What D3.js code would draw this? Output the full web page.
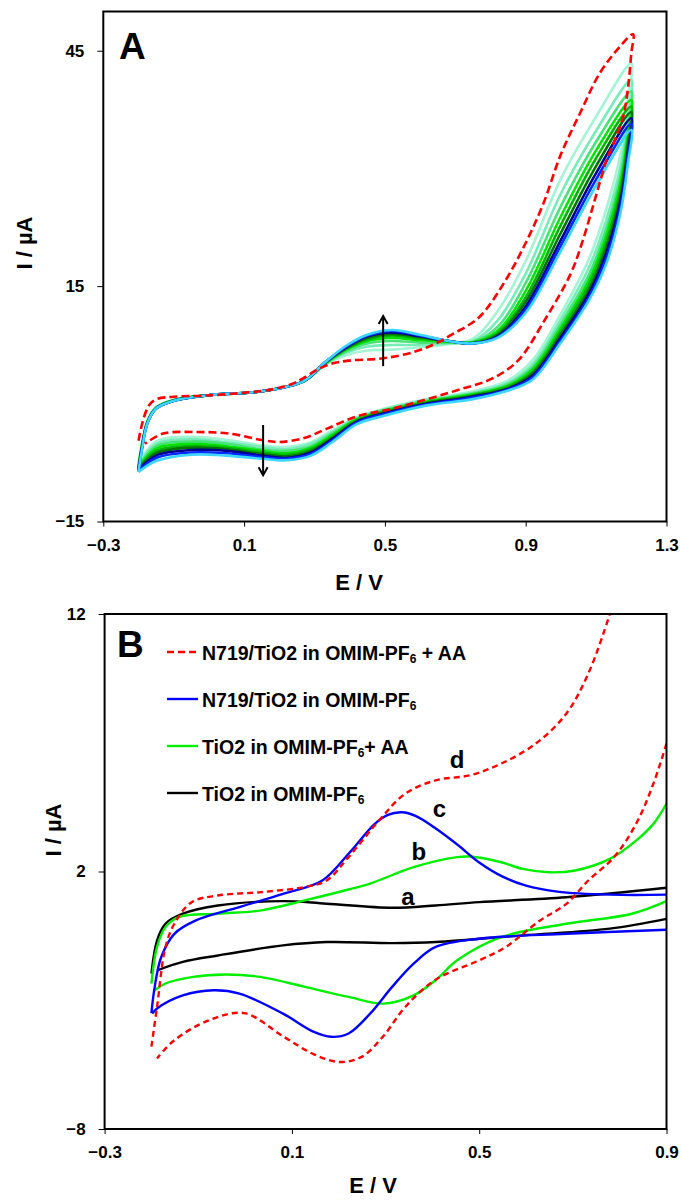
<!DOCTYPE html>
<html>
<head>
<meta charset="utf-8">
<script src="https://cdn.jsdelivr.net/npm/d3@7"></script>
<style>
  body { margin: 0; background: #fff; }
  svg text { font-family: "Liberation Sans", Arial, sans-serif; font-weight: bold; fill: #000; }
</style>
</head>
<body>
<svg id="chart" width="682" height="1200"></svg>
<script>
// ---------- Panel A data (E / V, I / uA) ----------
// E values shared by every scan, forward (anodic) and reverse (cathodic) branch
const scanEFwd = [-0.2, -0.19, -0.175, -0.15, -0.1, 0.0, 0.15, 0.27, 0.33, 0.39, 0.45, 0.52, 0.6, 0.68, 0.75, 0.82, 0.9, 1.0, 1.1, 1.2];
const scanERev = [1.2, 1.19, 1.17, 1.13, 1.08, 1.0, 0.92, 0.85, 0.75, 0.62, 0.5, 0.42, 0.35, 0.29, 0.22, 0.15, 0.05, -0.05, -0.15, -0.2];

// currents of the repeated scans, first scan first
const scanIFwd = [
  [-7.6, -5.0, -2.2, -0.4, 0.5, 1.1, 1.6, 2.9, 5.0, 6.2, 6.8, 6.9, 7.2, 7.6, 8.3, 11.8, 18.2, 28.7, 36.6, 43.4],
  [-7.8, -5.1, -2.25, -0.45, 0.5, 1.1, 1.6, 2.9, 5.0, 6.5, 7.3, 7.5, 7.5, 7.7, 8.0, 10.6, 16.6, 26.8, 34.8, 41.3],
  [-8.0, -5.2, -2.3, -0.5, 0.45, 1.1, 1.6, 2.9, 5.1, 6.7, 7.7, 8.0, 7.8, 7.8, 7.9, 9.8, 15.4, 25.2, 33.4, 39.8],
  [-8.1, -5.3, -2.35, -0.5, 0.45, 1.1, 1.6, 2.9, 5.1, 6.9, 8.0, 8.4, 8.1, 7.9, 7.8, 9.3, 14.4, 23.9, 32.3, 38.7],
  [-8.2, -5.4, -2.4, -0.55, 0.45, 1.1, 1.6, 2.9, 5.2, 7.0, 8.2, 8.7, 8.3, 8.0, 7.8, 9.0, 13.6, 22.8, 31.3, 37.9],
  [-8.3, -5.5, -2.4, -0.55, 0.4, 1.1, 1.6, 2.9, 5.2, 7.1, 8.4, 8.9, 8.5, 8.0, 7.7, 8.8, 13.0, 21.8, 30.3, 37.2],
  [-8.45, -5.6, -2.45, -0.6, 0.4, 1.1, 1.6, 2.9, 5.3, 7.2, 8.6, 9.1, 8.6, 8.0, 7.7, 8.6, 12.4, 20.9, 29.4, 36.4],
  [-8.6, -5.7, -2.5, -0.6, 0.4, 1.1, 1.6, 2.9, 5.3, 7.3, 8.7, 9.3, 8.7, 8.0, 7.7, 8.5, 12.0, 20.2, 28.6, 35.7],
  [-8.7, -5.8, -2.5, -0.6, 0.4, 1.1, 1.6, 2.9, 5.3, 7.4, 8.8, 9.4, 8.8, 8.0, 7.7, 8.4, 11.6, 19.5, 27.8, 34.9]
];
const scanIRev = [
  [43.4, 38.5, 32.0, 25.0, 18.5, 11.5, 5.6, 3.0, 1.6, 0.6, -0.6, -1.7, -3.4, -4.9, -5.5, -5.3, -4.6, -4.2, -4.8, -7.6],
  [41.3, 36.6, 30.4, 23.6, 17.4, 10.8, 5.1, 2.7, 1.4, 0.5, -0.7, -1.8, -3.6, -5.1, -5.8, -5.5, -4.9, -4.5, -5.1, -7.8],
  [39.8, 35.2, 29.2, 22.5, 16.5, 10.2, 4.7, 2.5, 1.3, 0.4, -0.8, -1.9, -3.8, -5.4, -6.0, -5.8, -5.1, -4.8, -5.4, -8.0],
  [38.7, 34.2, 28.3, 21.6, 15.8, 9.7, 4.4, 2.3, 1.2, 0.3, -0.9, -2.0, -4.0, -5.6, -6.3, -6.0, -5.4, -5.1, -5.7, -8.1],
  [37.9, 33.5, 27.5, 20.8, 15.2, 9.3, 4.1, 2.2, 1.1, 0.2, -1.0, -2.1, -4.2, -5.8, -6.5, -6.2, -5.6, -5.4, -6.0, -8.2],
  [37.2, 32.8, 26.8, 20.1, 14.6, 8.9, 3.9, 2.0, 1.0, 0.1, -1.1, -2.2, -4.4, -6.0, -6.7, -6.4, -5.8, -5.6, -6.3, -8.3],
  [36.4, 32.0, 26.0, 19.4, 14.1, 8.5, 3.6, 1.9, 0.9, 0.0, -1.2, -2.3, -4.5, -6.2, -6.9, -6.6, -6.0, -5.9, -6.6, -8.45],
  [35.7, 31.3, 25.2, 18.7, 13.6, 8.1, 3.4, 1.8, 0.8, -0.1, -1.3, -2.4, -4.7, -6.4, -7.0, -6.8, -6.3, -6.2, -6.9, -8.6],
  [34.9, 30.5, 24.5, 18.0, 13.2, 7.8, 3.1, 1.7, 0.6, -0.2, -1.5, -2.6, -4.9, -6.6, -7.2, -7.0, -6.6, -6.5, -7.3, -8.7]
];
const scanColors = ['#a3f5d3', '#78ecb8', '#48e27a', '#00e400', '#00b400', '#007400', '#000090', '#0028ff', '#3cd6ff'];

// red dashed reference curve, one full loop
const redA = [
  [-0.2, -4.7], [-0.19, -2.6], [-0.178, -0.9], [-0.167, 0.0], [-0.148, 0.6], [-0.1, 0.9], [-0.012, 1.05],
  [0.1, 1.4], [0.186, 1.9], [0.24, 2.6], [0.273, 3.4], [0.31, 4.4], [0.347, 5.1], [0.396, 5.5],
  [0.495, 5.8], [0.582, 6.6], [0.64, 7.6], [0.693, 8.9], [0.767, 11.0], [0.841, 15.6], [0.9, 20.5],
  [0.95, 25.5], [1.0, 31.8], [1.054, 37.0], [1.11, 42.1], [1.167, 45.5], [1.205, 47.1],
  [1.2, 44.7], [1.191, 40.4], [1.177, 36.6], [1.153, 33.6], [1.13, 31.1], [1.115, 28.9], [1.09, 25.0],
  [1.06, 20.5], [1.027, 16.5], [0.953, 10.6], [0.878, 5.5], [0.804, 3.2], [0.718, 1.9], [0.52, -0.63],
  [0.42, -1.6], [0.334, -3.2], [0.268, -4.4], [0.2, -4.87], [0.154, -4.65], [0.06, -3.8],
  [-0.035, -3.6], [-0.13, -3.8], [-0.182, -5.1]
];

// arrows: E position, start and end current
const arrowsA = [
  { e: 0.495, from: 4.8, to: 11.2 },
  { e: 0.154, from: -2.7, to: -9.1 }
];

// ---------- Panel B data ----------
const redUpB = [[-0.2, -4.8], [-0.188, -3.26], [-0.17, -0.93], [-0.151, -0.03], [-0.114, 0.81], [-0.058, 1.07],
  [0.035, 1.2], [0.128, 1.4], [0.174, 1.65], [0.221, 2.56], [0.286, 3.98], [0.342, 5.02], [0.407, 5.54],
  [0.481, 5.74], [0.547, 6.19], [0.621, 6.97], [0.686, 8.13], [0.733, 9.69], [0.779, 12.0], [0.8, 13.3]];
const redDownB = [[0.9, 6.97], [0.872, 5.41], [0.835, 3.85], [0.788, 2.56], [0.733, 1.65], [0.686, 0.74],
  [0.63, 0.1], [0.556, -0.94], [0.5, -1.45], [0.407, -2.2], [0.342, -3.26], [0.295, -4.4], [0.249, -5.2],
  [0.202, -5.4], [0.147, -5.1], [0.081, -4.4], [-0.002, -3.5], [-0.077, -3.78], [-0.151, -4.55], [-0.188, -5.26]];
const blueUpB = [[-0.2, -3.5], [-0.193, -2.48], [-0.179, -1.32], [-0.151, -0.42], [-0.105, 0.1], [-0.012, 0.62],
  [0.081, 1.13], [0.165, 1.65], [0.221, 2.69], [0.277, 3.85], [0.305, 4.2], [0.335, 4.3], [0.365, 4.15],
  [0.405, 3.7], [0.453, 3.05], [0.5, 2.35], [0.55, 1.8], [0.6, 1.45], [0.667, 1.22], [0.779, 1.1], [0.9, 1.1]];
const blueDownB = [[0.9, -0.26], [0.686, -0.42], [0.5, -0.61], [0.407, -0.93], [0.36, -1.58], [0.314, -2.48],
  [0.267, -3.52], [0.221, -4.29], [0.184, -4.42], [0.147, -4.23], [0.081, -3.52], [-0.012, -2.74],
  [-0.067, -2.61], [-0.133, -2.81], [-0.188, -3.32], [-0.198, -3.52]];
const greenUpB = [[-0.2, -2.35], [-0.188, -0.93], [-0.17, -0.16], [-0.142, 0.23], [-0.058, 0.36], [0.035, 0.49],
  [0.128, 0.88], [0.221, 1.3], [0.27, 1.55], [0.36, 2.17], [0.453, 2.56], [0.481, 2.58], [0.547, 2.36],
  [0.593, 2.1], [0.649, 1.97], [0.705, 2.04], [0.779, 2.49], [0.835, 3.2], [0.872, 3.85], [0.9, 4.63]];
const greenDownB = [[0.9, 0.85], [0.826, 0.36], [0.686, -0.03], [0.547, -0.55], [0.453, -1.45], [0.407, -2.22],
  [0.36, -2.81], [0.295, -3.13], [0.221, -2.87], [0.128, -2.48], [0.035, -2.1], [-0.04, -2.0], [-0.114, -2.1],
  [-0.17, -2.35], [-0.193, -2.61]];
const blackUpB = [[-0.2, -1.97], [-0.188, -0.68], [-0.17, -0.03], [-0.133, 0.36], [-0.058, 0.68], [0.081, 0.85],
  [0.174, 0.75], [0.314, 0.59], [0.407, 0.68], [0.5, 0.81], [0.686, 1.0], [0.9, 1.37]];
const blackDownB = [[0.9, 0.16], [0.779, -0.22], [0.593, -0.48], [0.407, -0.74], [0.314, -0.78], [0.174, -0.74],
  [0.081, -0.87], [-0.058, -1.26], [-0.133, -1.51], [-0.188, -1.84]];

const legendB = [
  { text: 'N719/TiO2 in OMIM-PF', sub: '6', after: ' + AA', color: '#ff0000', dash: '7,4' },
  { text: 'N719/TiO2 in OMIM-PF', sub: '6', after: '', color: '#0000ff', dash: null },
  { text: 'TiO2 in OMIM-PF', sub: '6', after: '+ AA', color: '#00ee00', dash: null },
  { text: 'TiO2 in OMIM-PF', sub: '6', after: '', color: '#000000', dash: null }
];
// curve letters: E and I of the letter baseline centre
const curveLabelsB = [
  { t: 'd', e: 0.453, i: 6.02 }, { t: 'c', e: 0.415, i: 4.12 },
  { t: 'b', e: 0.371, i: 2.45 }, { t: 'a', e: 0.348, i: 0.7 }
];

const xTicksA = [-0.3, 0.1, 0.5, 0.9, 1.3];
const yTicksA = [-15, 15, 45];
const xTicksB = [-0.3, 0.1, 0.5, 0.9];
const yTicksB = [-8, 2, 12];

const svg = d3.select('#chart');

//Scales
const xA = d3.scaleLinear().domain([-0.3, 1.3]).range([103.3, 666.5]);
const yA = d3.scaleLinear().domain([-15, 50]).range([521.5, 11.5]);
const xB = d3.scaleLinear().domain([-0.3, 0.9]).range([104.6, 666.5]);
const yB = d3.scaleLinear().domain([-8, 12]).range([1129, 614]);

function drawFrame(x, y, xTicks, yTicks, id) {
  const [x0, x1] = x.range();
  const [y0, y1] = y.range();

  svg.append('defs').append('clipPath').attr('id', id)
    .append('rect').attr('x', x0).attr('y', y1).attr('width', x1 - x0).attr('height', y0 - y1);

  const fmt = d3.format('.1f');
  const gx = svg.append('g')
    .attr('transform', `translate(0, ${y0})`)
    .call(d3.axisBottom(x).tickValues(xTicks).tickFormat(fmt).tickSize(5).tickPadding(12));
  const gy = svg.append('g')
    .attr('transform', `translate(${x0}, 0)`)
    .call(d3.axisLeft(y).tickValues(yTicks).tickFormat(d3.format('d')).tickSize(6).tickPadding(13));
  [gx, gy].forEach(g => {
    g.select('.domain').remove();
    g.selectAll('line').attr('stroke', '#000').attr('stroke-width', 1);
    g.selectAll('text').attr('font-size', 17).attr('font-family', '"Liberation Sans", Arial, sans-serif')
      .attr('font-weight', 'bold');
  });
}

function drawBox(x, y) {
  const [x0, x1] = x.range();
  const [y0, y1] = y.range();
  svg.append('rect')
    .attr('x', x0).attr('y', y1)
    .attr('width', x1 - x0).attr('height', y0 - y1)
    .attr('fill', 'none').attr('stroke', '#000').attr('stroke-width', 2);
}

// ---------- Panel A ----------
drawFrame(xA, yA, xTicksA, yTicksA, 'clipA');

const lineA = d3.line()
  .x(d => xA(d[0]))
  .y(d => yA(d[1]))
  .curve(d3.curveCatmullRom.alpha(0.5));

const plotA = svg.append('g').attr('clip-path', 'url(#clipA)');

scanIFwd.forEach((fwd, k) => {
  const pts = scanEFwd.map((e, i) => [e, fwd[i]])
    .concat(scanERev.slice(1).map((e, i) => [e, scanIRev[k][i + 1]]));
  plotA.append('path')
    .attr('d', lineA(pts))
    .attr('fill', 'none')
    .attr('stroke', scanColors[k])
    .attr('stroke-width', 2.6);
});

plotA.append('path')
  .attr('d', lineA(redA))
  .attr('fill', 'none')
  .attr('stroke', '#ff0000')
  .attr('stroke-width', 2.6)
  .attr('stroke-dasharray', '8,4');

// arrows
arrowsA.forEach(a => {
  const x = xA(a.e), ya = yA(a.from), yb = yA(a.to);
  const dir = yb < ya ? 1 : -1;
  svg.append('line')
    .attr('x1', x).attr('x2', x).attr('y1', ya).attr('y2', yb)
    .attr('stroke', '#000').attr('stroke-width', 2);
  svg.append('path')
    .attr('d', `M${x - 4.5},${yb + dir * 8} L${x},${yb} L${x + 4.5},${yb + dir * 8}`)
    .attr('fill', 'none').attr('stroke', '#000').attr('stroke-width', 2);
});

drawBox(xA, yA);

svg.append('text').attr('x', 119).attr('y', 59).attr('font-size', 37).text('A');

svg.append('text')
  .attr('transform', 'translate(32, 243) rotate(-90)')
  .attr('text-anchor', 'middle').attr('font-size', 22)
  .text('I / µA');
svg.append('text')
  .attr('x', 359).attr('y', 590)
  .attr('text-anchor', 'middle').attr('font-size', 22)
  .text('E / V');

// ---------- Panel B ----------
drawFrame(xB, yB, xTicksB, yTicksB, 'clipB');

const lineB = d3.line()
  .x(d => xB(d[0]))
  .y(d => yB(d[1]))
  .curve(d3.curveCatmullRom.alpha(0.5));

const plotB = svg.append('g').attr('clip-path', 'url(#clipB)');

const seriesB = [
  { data: [blackUpB, blackDownB], color: '#000000', dash: null },
  { data: [greenUpB, greenDownB], color: '#00ee00', dash: null },
  { data: [blueUpB, blueDownB], color: '#0000ff', dash: null },
  { data: [redUpB, redDownB], color: '#ff0000', dash: '6,4' }
];
seriesB.forEach(s => {
  s.data.forEach(branch => {
    plotB.append('path')
      .attr('d', lineB(branch))
      .attr('fill', 'none')
      .attr('stroke', s.color)
      .attr('stroke-width', 2.4)
      .attr('stroke-dasharray', s.dash);
  });
});

drawBox(xB, yB);

svg.append('text').attr('x', 117).attr('y', 657).attr('font-size', 37).text('B');

// legend
const legend = svg.append('g').attr('transform', 'translate(167, 660)');
legendB.forEach((d, i) => {
  const row = legend.append('g').attr('transform', `translate(0, ${i * 47})`);
  row.append('line')
    .attr('x1', 0).attr('x2', 31).attr('y1', -8).attr('y2', -8)
    .attr('stroke', d.color).attr('stroke-width', 2.4)
    .attr('stroke-dasharray', d.dash);
  const t = row.append('text').attr('x', 35).attr('font-size', 19.5);
  t.append('tspan').text(d.text);
  t.append('tspan').attr('font-size', 12).attr('dy', 3).text(d.sub);
  t.append('tspan').attr('dy', -3).text(d.after);
});

curveLabelsB.forEach(d => {
  svg.append('text')
    .attr('x', xB(d.e)).attr('y', yB(d.i))
    .attr('text-anchor', 'middle').attr('font-size', 24)
    .text(d.t);
});

svg.append('text')
  .attr('transform', 'translate(61, 830) rotate(-90)')
  .attr('text-anchor', 'middle').attr('font-size', 22)
  .text('I / µA');
svg.append('text')
  .attr('x', 373).attr('y', 1193)
  .attr('text-anchor', 'middle').attr('font-size', 22)
  .text('E / V');
</script>
</body>
</html>
